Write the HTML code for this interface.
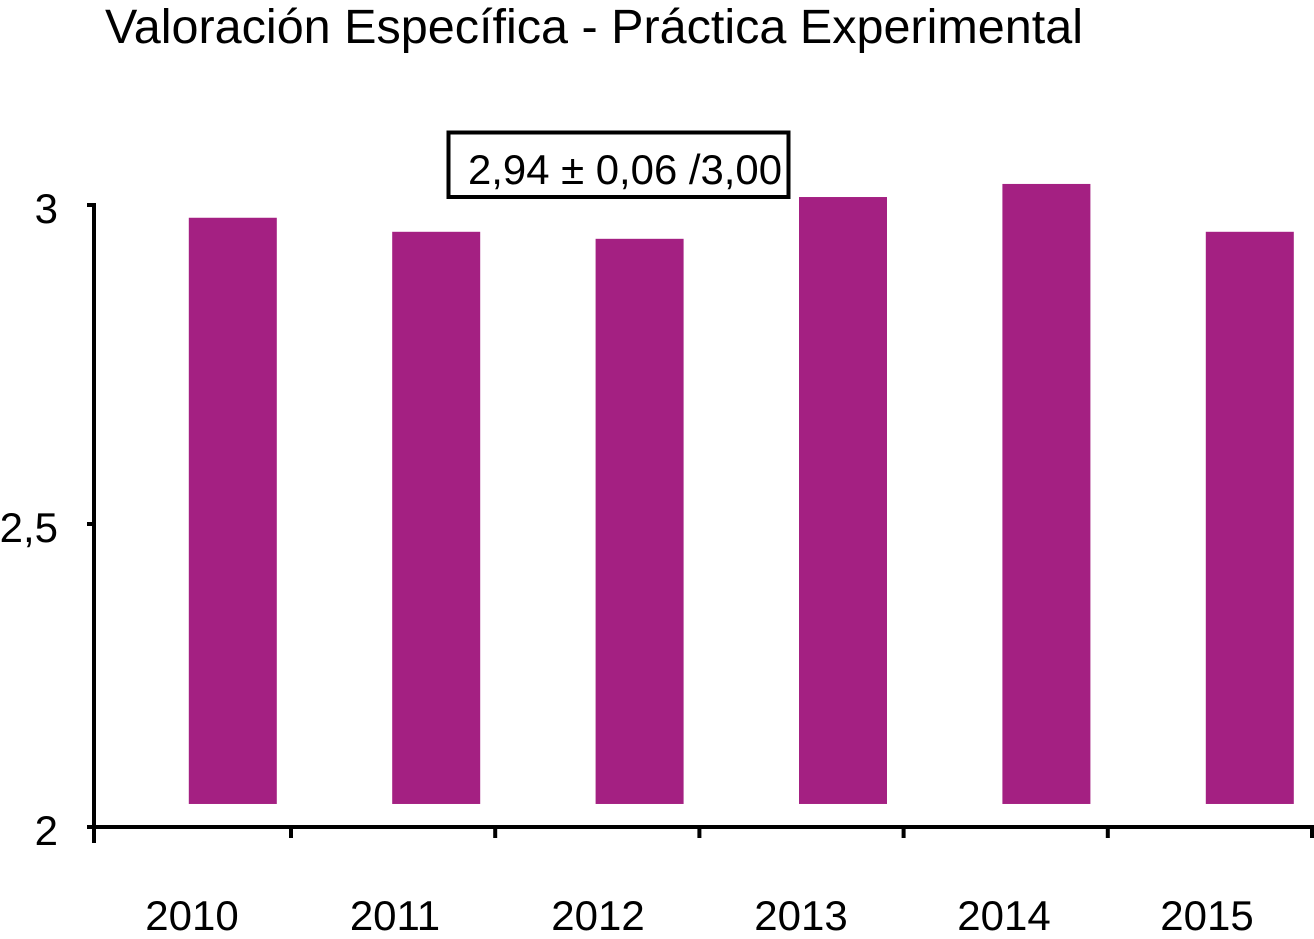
<!DOCTYPE html>
<html lang="es">
<head>
<meta charset="utf-8">
<title>Valoración Específica - Práctica Experimental</title>
<style>
  html, body { margin: 0; padding: 0; background: #fff; }
  svg { display: block; font-family: "Liberation Sans", Arial, sans-serif; fill: #000; }
</style>
</head>
<body>
<svg id="chart" xmlns="http://www.w3.org/2000/svg" width="1314" height="939" viewBox="0 0 1314 939">
  <rect x="0" y="0" width="1314" height="939" fill="#ffffff"/>
  <text x="105" y="43" font-size="48" textLength="978" lengthAdjust="spacingAndGlyphs">Valoración Específica - Práctica Experimental</text>
  <g id="bars"></g>
  <g id="axes"></g>
  <g>
    <rect x="448.5" y="132.5" width="340" height="64.5" fill="#ffffff" stroke="#000000" stroke-width="4"/>
    <text x="468" y="184" font-size="42" textLength="314" lengthAdjust="spacingAndGlyphs">2,94 ± 0,06 /3,00</text>
  </g>
</svg>
<script>
const categories = ["2010", "2011", "2012", "2013", "2014", "2015"];
const seriesValues = [2.98, 2.958, 2.947, 3.0125, 3.033, 2.958];
const yTickValues = [2, 2.5, 3];
const yTickLabels = ["2", "2,5", "3"];

const SVG_NS = "http://www.w3.org/2000/svg";
const BAR_FLOOR = 2.038;
const BAR_WIDTH = 88;
const AXIS_X = 94;
const STROKE = 4;

function yScale(v) {
  return v <= 2.5 ? 827 - (v - 2) * 606 : 524 - (v - 2.5) * 638;
}
function barCenter(i) { return 232.8 + 203.4 * i; }
function tickX(i) { return 291 + 204.2 * i; }
function labelX(i) { return 192 + 203 * i; }

function make(tag, attrs, parent) {
  const el = document.createElementNS(SVG_NS, tag);
  for (const k in attrs) el.setAttribute(k, attrs[k]);
  parent.appendChild(el);
  return el;
}

const barsGroup = document.getElementById("bars");
const axesGroup = document.getElementById("axes");

seriesValues.forEach(function (v, i) {
  const top = yScale(v);
  const bar = make("rect", { x: barCenter(i) - BAR_WIDTH / 2, y: top, width: BAR_WIDTH, height: yScale(BAR_FLOOR) - top, fill: "#a42082" }, barsGroup);
  
  
});

const yAxisLine = make("line", { x1: AXIS_X, y1: yScale(3) - 2, x2: AXIS_X, y2: 843, stroke: "#000", "stroke-width": STROKE }, axesGroup);



const xAxisLine = make("line", { x1: AXIS_X, y1: yScale(2), x2: 1314, y2: yScale(2), stroke: "#000", "stroke-width": STROKE }, axesGroup);



yTickValues.forEach(function (v, i) {
  const y = yScale(v);
  const tick = make("line", { x1: 87, y1: y, x2: AXIS_X, y2: y, stroke: "#000", "stroke-width": STROKE }, axesGroup);
  
  
  const label = make("text", { x: 58, y: y + 18, "font-size": 42, "text-anchor": "end" }, axesGroup);
  label.textContent = yTickLabels[i];
  
  
});

categories.forEach(function (c, i) {
  const x = tickX(i);
  const tick = make("line", { x1: x, y1: yScale(2), x2: x, y2: 838, stroke: "#000", "stroke-width": STROKE }, axesGroup);
  
  
  const label = make("text", { x: labelX(i), y: 930, "font-size": 42, "text-anchor": "middle" }, axesGroup);
  label.textContent = c;
  
  
});
</script>
</body>
</html>
